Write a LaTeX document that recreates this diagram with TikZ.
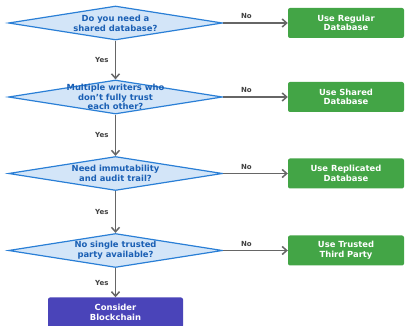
\documentclass[tikz,border=0pt]{standalone}
\usepackage{fontspec}
\setmainfont{DejaVu Sans}
\usetikzlibrary{shapes.geometric,arrows.meta}
\definecolor{qfill}{HTML}{D3E5F8}
\definecolor{qline}{HTML}{2A7FD6}
\definecolor{qtext}{HTML}{1A5FB4}
\definecolor{okgreen}{HTML}{43A546}
\definecolor{chainblue}{HTML}{4A44B9}
\definecolor{flowgray}{HTML}{666666}
\definecolor{labgray}{HTML}{404040}

\begin{document}
\begin{tikzpicture}[x=1pt,y=-1pt,
  question/.style={draw=qline, fill=qfill, line width=1.2pt, diamond,
    minimum width=214pt, minimum height=34pt, inner sep=0pt},
  qlabel/.style={text=qtext, align=center, font=\fontsize{8.4}{9.8}\selectfont\bfseries},
  answer/.style={fill=okgreen, rounded corners=2pt, minimum width=116pt,
    minimum height=30pt, text=white, align=center,
    font=\fontsize{8.4}{9.6}\selectfont\bfseries},
  flow/.style={draw=flowgray, line width=1.5pt, -{Straight Barb[length=4.5pt,width=8pt]}},
  choice/.style={text=labgray, font=\fontsize{7}{8}\selectfont\bfseries}]
\useasboundingbox (0,0) rectangle (405,326);
\newcommand\ask[4]{
\node[question] (#1) at (115.5,#2) {};
\node[qlabel] (#1t) at (#1) {#3};
\node[answer] (#1a) at (346,#2) {#4};
\path[flow] (#1.east) -- node[choice, above, pos=0.36] {No} (#1a.west);
}
\ask{q1}{23}{Do you need a\\shared database?}{Use Regular\\Database}
\ask{q2}{97}{Multiple writers who\\don't fully trust\\each other?}{Use Shared\\Database}
\ask{q3}{173.5}{Need immutability\\and audit trail?}{Use Replicated\\Database}
\ask{q4}{250.5}{No single trusted\\party available?}{Use Trusted\\Third Party}
\node[answer, fill=chainblue, minimum width=135pt] (chain) at (115.5,312.5) {Consider\\Blockchain};
\path[flow] (q1.south) -- node[choice, left=3pt] {Yes} (q2.north);
\path[flow] (q2.south) -- node[choice, left=3pt] {Yes} (q3.north);
\path[flow] (q3.south) -- node[choice, left=3pt] {Yes} (q4.north);
\path[flow] (q4.south) -- node[choice, left=3pt] {Yes} (chain.north);
\end{tikzpicture}
\end{document}
